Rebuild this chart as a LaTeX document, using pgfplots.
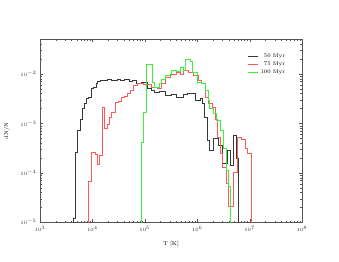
\documentclass[border=0pt]{standalone}
\usepackage{pgfplots}
\pgfplotsset{compat=1.18}
\usepackage{pgfplotstable}
\usetikzlibrary{calc}
\definecolor{c50}{HTML}{383838}
\definecolor{c75}{HTML}{FF5A5A}
\definecolor{c100}{HTML}{3CF03C}
\definecolor{frame}{HTML}{555555}

% log10 T, log10 dN/N (bin left edges, const plot)
\pgfplotstableread{
lt ly
3.635 -6
3.635 -4.91
3.668 -3.59
3.72 -3.14
3.76 -2.91
3.80 -2.70
3.84 -2.59
3.88 -2.50
3.92 -2.48
3.97 -2.30
4.02 -2.28
4.07 -2.20
4.10 -2.15
4.15 -2.13
4.28 -2.10
4.37 -2.12
4.48 -2.10
4.53 -2.13
4.60 -2.11
4.70 -2.14
4.76 -2.12
4.83 -2.20
4.94 -2.18
5.04 -2.30
5.12 -2.33
5.19 -2.37
5.28 -2.35
5.39 -2.43
5.50 -2.41
5.61 -2.47
5.73 -2.42
5.82 -2.39
5.96 -2.54
6.05 -2.50
6.09 -2.60
6.13 -2.87
6.19 -3.34
6.24 -3.54
6.30 -3.30
6.40 -3.45
6.47 -3.80
6.57 -3.55
6.63 -3.85
6.68 -3.24
6.74 -3.70
6.78 -3.70
6.78 -6
}\tabA
\pgfplotstableread{
lt ly
3.92 -6
3.92 -4.18
3.97 -3.59
4.06 -3.62
4.09 -3.83
4.14 -3.64
4.19 -2.67
4.23 -3.09
4.28 -3.01
4.32 -2.87
4.37 -2.77
4.43 -2.57
4.49 -2.55
4.56 -2.47
4.61 -2.45
4.66 -2.40
4.72 -2.34
4.78 -2.24
4.85 -2.20
4.97 -2.22
5.13 -2.27
5.23 -2.30
5.32 -2.20
5.39 -2.07
5.48 -2.00
5.61 -1.97
5.67 -2.00
5.73 -1.93
5.83 -1.97
5.93 -2.03
6.02 -2.13
6.07 -2.20
6.15 -2.47
6.21 -2.60
6.28 -2.67
6.34 -2.91
6.39 -3.28
6.44 -3.61
6.48 -3.88
6.56 -4.21
6.59 -4.68
6.68 -3.98
6.77 -3.28
6.85 -3.33
6.91 -3.51
6.96 -3.61
7.04 -3.61
7.04 -6
}\tabB
\pgfplotstableread{
lt ly
4.94 -6
4.94 -3.38
4.98 -2.77
5.02 -1.81
5.14 -2.17
5.18 -2.27
5.23 -2.28
5.28 -2.20
5.32 -2.10
5.39 -2.03
5.51 -1.93
5.61 -1.95
5.67 -1.87
5.73 -1.93
5.78 -1.70
5.86 -1.75
5.91 -1.97
6.00 -2.17
6.07 -2.20
6.15 -2.34
6.21 -2.54
6.24 -2.70
6.31 -2.80
6.37 -2.94
6.44 -3.14
6.50 -3.51
6.56 -3.95
6.59 -4.28
6.64 -4.28
6.64 -6
}\tabC

\begin{document}
\begin{tikzpicture}
\begin{axis}[
  xmode=log, ymode=log,
  scale only axis, width=262bp, height=183bp,
  xmin=1e3, xmax=1e8, ymin=1e-5, ymax=0.05,
  axis line style={frame}, tick style={frame},
  major tick length=3pt, minor tick length=1.6pt,
  tick label style={font=\fontsize{5}{6}\selectfont, text=black!80},
  xlabel={T [K]}, ylabel={dN/N},
  label style={font=\fontsize{5.5}{6.5}\selectfont},
  xlabel style={yshift=-4pt},
  ylabel style={yshift=4pt},
  legend style={draw=none, fill=none, at={(0.955,0.945)}, anchor=north east,
    font=\fontsize{5.5}{6.5}\selectfont, row sep=-1pt},
  legend cell align=right,
  legend image code/.code={\draw[mark repeat=2,mark phase=2,#1,sharp plot]
    plot coordinates {(0cm,0cm) (0.18cm,0cm) (0.36cm,0cm)};},
  every axis plot/.append style={line width=0.6pt},
]
\addplot[c50, const plot] table[x expr={10^\thisrow{lt}}, y expr={10^\thisrow{ly}}] {\tabA};
\addlegendentry{50 Myr}
\addplot[c75, const plot] table[x expr={10^\thisrow{lt}}, y expr={10^\thisrow{ly}}] {\tabB};
\addlegendentry{75 Myr}
\addplot[c100, const plot] table[x expr={10^\thisrow{lt}}, y expr={10^\thisrow{ly}}] {\tabC};
\addlegendentry{100 Myr}
\end{axis}
\path ($(current axis.south west)+(-40bp,-39.7bp)$) rectangle ($(current axis.north east)+(37bp,39.3bp)$);
\end{tikzpicture}
\end{document}
